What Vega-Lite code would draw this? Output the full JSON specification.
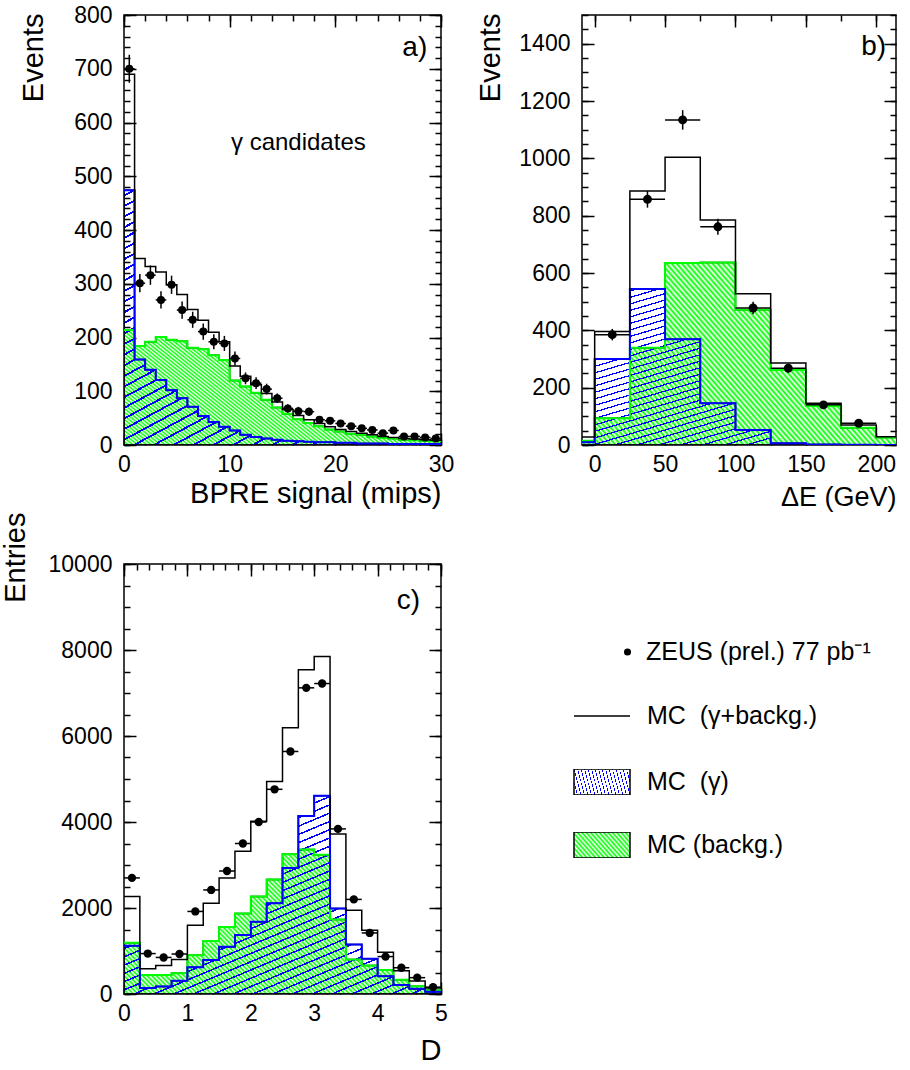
{
"$schema":"https://vega.github.io/schema/vega-lite/v6.json",
"background":"white",
"padding":{"left":0,"top":3,"right":5,"bottom":5},
"columns":2,
"bounds":"flush",
"spacing":{"row":119,"column":141},
"config":{
 "font":"Liberation Sans",
 "view":{"stroke":"black","strokeWidth":1.5},
 "axis":{"grid":false,"domain":false,"tickColor":"black","tickWidth":1.5,"labelColor":"black","labelFontSize":23,"titleFontSize":29,"titleFontWeight":"normal","titleColor":"black","labelFlush":false,"labelOverlap":false,"titleAlign":"right","titleBaseline":"middle"},
 "legend":{"title":null,"orient":"none","padding":0,"clipHeight":26,"labelFontSize":25,"labelColor":"black","labelLimit":400,"labelBaseline":"middle"},
 "style":{
  "ghatch":{"color":{"gradient":"linear","x1":0,"y1":1,"x2":1.204,"y2":0.453,"stops":[
{"offset":0,"color":"#0f0"},{"offset":0.005,"color":"#fff"},{"offset":0.01,"color":"#0f0"},{"offset":0.015,"color":"#fff"},{"offset":0.02,"color":"#0f0"},{"offset":0.025,"color":"#fff"},{"offset":0.03,"color":"#0f0"},{"offset":0.035,"color":"#fff"},{"offset":0.04,"color":"#0f0"},{"offset":0.045,"color":"#fff"},{"offset":0.05,"color":"#0f0"},{"offset":0.055,"color":"#fff"},{"offset":0.06,"color":"#0f0"},{"offset":0.065,"color":"#fff"},{"offset":0.07,"color":"#0f0"},{"offset":0.075,"color":"#fff"},{"offset":0.08,"color":"#0f0"},{"offset":0.085,"color":"#fff"},{"offset":0.09,"color":"#0f0"},{"offset":0.095,"color":"#fff"},
{"offset":0.1,"color":"#0f0"},{"offset":0.105,"color":"#fff"},{"offset":0.11,"color":"#0f0"},{"offset":0.115,"color":"#fff"},{"offset":0.12,"color":"#0f0"},{"offset":0.125,"color":"#fff"},{"offset":0.13,"color":"#0f0"},{"offset":0.135,"color":"#fff"},{"offset":0.14,"color":"#0f0"},{"offset":0.145,"color":"#fff"},{"offset":0.15,"color":"#0f0"},{"offset":0.155,"color":"#fff"},{"offset":0.16,"color":"#0f0"},{"offset":0.165,"color":"#fff"},{"offset":0.17,"color":"#0f0"},{"offset":0.175,"color":"#fff"},{"offset":0.18,"color":"#0f0"},{"offset":0.185,"color":"#fff"},{"offset":0.19,"color":"#0f0"},{"offset":0.195,"color":"#fff"},
{"offset":0.2,"color":"#0f0"},{"offset":0.205,"color":"#fff"},{"offset":0.21,"color":"#0f0"},{"offset":0.215,"color":"#fff"},{"offset":0.22,"color":"#0f0"},{"offset":0.225,"color":"#fff"},{"offset":0.23,"color":"#0f0"},{"offset":0.235,"color":"#fff"},{"offset":0.24,"color":"#0f0"},{"offset":0.245,"color":"#fff"},{"offset":0.25,"color":"#0f0"},{"offset":0.255,"color":"#fff"},{"offset":0.26,"color":"#0f0"},{"offset":0.265,"color":"#fff"},{"offset":0.27,"color":"#0f0"},{"offset":0.275,"color":"#fff"},{"offset":0.28,"color":"#0f0"},{"offset":0.285,"color":"#fff"},{"offset":0.29,"color":"#0f0"},{"offset":0.295,"color":"#fff"},
{"offset":0.3,"color":"#0f0"},{"offset":0.305,"color":"#fff"},{"offset":0.31,"color":"#0f0"},{"offset":0.315,"color":"#fff"},{"offset":0.32,"color":"#0f0"},{"offset":0.325,"color":"#fff"},{"offset":0.33,"color":"#0f0"},{"offset":0.335,"color":"#fff"},{"offset":0.34,"color":"#0f0"},{"offset":0.345,"color":"#fff"},{"offset":0.35,"color":"#0f0"},{"offset":0.355,"color":"#fff"},{"offset":0.36,"color":"#0f0"},{"offset":0.365,"color":"#fff"},{"offset":0.37,"color":"#0f0"},{"offset":0.375,"color":"#fff"},{"offset":0.38,"color":"#0f0"},{"offset":0.385,"color":"#fff"},{"offset":0.39,"color":"#0f0"},{"offset":0.395,"color":"#fff"},
{"offset":0.4,"color":"#0f0"},{"offset":0.405,"color":"#fff"},{"offset":0.41,"color":"#0f0"},{"offset":0.415,"color":"#fff"},{"offset":0.42,"color":"#0f0"},{"offset":0.425,"color":"#fff"},{"offset":0.43,"color":"#0f0"},{"offset":0.435,"color":"#fff"},{"offset":0.44,"color":"#0f0"},{"offset":0.445,"color":"#fff"},{"offset":0.45,"color":"#0f0"},{"offset":0.455,"color":"#fff"},{"offset":0.46,"color":"#0f0"},{"offset":0.465,"color":"#fff"},{"offset":0.47,"color":"#0f0"},{"offset":0.475,"color":"#fff"},{"offset":0.48,"color":"#0f0"},{"offset":0.485,"color":"#fff"},{"offset":0.49,"color":"#0f0"},{"offset":0.495,"color":"#fff"},
{"offset":0.5,"color":"#0f0"},{"offset":0.505,"color":"#fff"},{"offset":0.51,"color":"#0f0"},{"offset":0.515,"color":"#fff"},{"offset":0.52,"color":"#0f0"},{"offset":0.525,"color":"#fff"},{"offset":0.53,"color":"#0f0"},{"offset":0.535,"color":"#fff"},{"offset":0.54,"color":"#0f0"},{"offset":0.545,"color":"#fff"},{"offset":0.55,"color":"#0f0"},{"offset":0.555,"color":"#fff"},{"offset":0.56,"color":"#0f0"},{"offset":0.565,"color":"#fff"},{"offset":0.57,"color":"#0f0"},{"offset":0.575,"color":"#fff"},{"offset":0.58,"color":"#0f0"},{"offset":0.585,"color":"#fff"},{"offset":0.59,"color":"#0f0"},{"offset":0.595,"color":"#fff"},
{"offset":0.6,"color":"#0f0"},{"offset":0.605,"color":"#fff"},{"offset":0.61,"color":"#0f0"},{"offset":0.615,"color":"#fff"},{"offset":0.62,"color":"#0f0"},{"offset":0.625,"color":"#fff"},{"offset":0.63,"color":"#0f0"},{"offset":0.635,"color":"#fff"},{"offset":0.64,"color":"#0f0"},{"offset":0.645,"color":"#fff"},{"offset":0.65,"color":"#0f0"},{"offset":0.655,"color":"#fff"},{"offset":0.66,"color":"#0f0"},{"offset":0.665,"color":"#fff"},{"offset":0.67,"color":"#0f0"},{"offset":0.675,"color":"#fff"},{"offset":0.68,"color":"#0f0"},{"offset":0.685,"color":"#fff"},{"offset":0.69,"color":"#0f0"},{"offset":0.695,"color":"#fff"},
{"offset":0.7,"color":"#0f0"},{"offset":0.705,"color":"#fff"},{"offset":0.71,"color":"#0f0"},{"offset":0.715,"color":"#fff"},{"offset":0.72,"color":"#0f0"},{"offset":0.725,"color":"#fff"},{"offset":0.73,"color":"#0f0"},{"offset":0.735,"color":"#fff"},{"offset":0.74,"color":"#0f0"},{"offset":0.745,"color":"#fff"},{"offset":0.75,"color":"#0f0"},{"offset":0.755,"color":"#fff"},{"offset":0.76,"color":"#0f0"},{"offset":0.765,"color":"#fff"},{"offset":0.77,"color":"#0f0"},{"offset":0.775,"color":"#fff"},{"offset":0.78,"color":"#0f0"},{"offset":0.785,"color":"#fff"},{"offset":0.79,"color":"#0f0"},{"offset":0.795,"color":"#fff"},
{"offset":0.8,"color":"#0f0"},{"offset":0.805,"color":"#fff"},{"offset":0.81,"color":"#0f0"},{"offset":0.815,"color":"#fff"},{"offset":0.82,"color":"#0f0"},{"offset":0.825,"color":"#fff"},{"offset":0.83,"color":"#0f0"},{"offset":0.835,"color":"#fff"},{"offset":0.84,"color":"#0f0"},{"offset":0.845,"color":"#fff"},{"offset":0.85,"color":"#0f0"},{"offset":0.855,"color":"#fff"},{"offset":0.86,"color":"#0f0"},{"offset":0.865,"color":"#fff"},{"offset":0.87,"color":"#0f0"},{"offset":0.875,"color":"#fff"},{"offset":0.88,"color":"#0f0"},{"offset":0.885,"color":"#fff"},{"offset":0.89,"color":"#0f0"},{"offset":0.895,"color":"#fff"},
{"offset":0.9,"color":"#0f0"},{"offset":0.905,"color":"#fff"},{"offset":0.91,"color":"#0f0"},{"offset":0.915,"color":"#fff"},{"offset":0.92,"color":"#0f0"},{"offset":0.925,"color":"#fff"},{"offset":0.93,"color":"#0f0"},{"offset":0.935,"color":"#fff"},{"offset":0.94,"color":"#0f0"},{"offset":0.945,"color":"#fff"},{"offset":0.95,"color":"#0f0"},{"offset":0.955,"color":"#fff"},{"offset":0.96,"color":"#0f0"},{"offset":0.965,"color":"#fff"},{"offset":0.97,"color":"#0f0"},{"offset":0.975,"color":"#fff"},{"offset":0.98,"color":"#0f0"},{"offset":0.985,"color":"#fff"},{"offset":0.99,"color":"#0f0"},{"offset":0.995,"color":"#fff"},{"offset":1,"color":"#0f0"}]}},
  "bhatch":{"color":{"gradient":"linear","x1":0,"y1":0,"x2":0.77,"y2":1.153,"stops":[
{"offset":0,"color":"transparent"},
{"offset":0.01,"color":"transparent"},{"offset":0.01,"color":"#00f"},{"offset":0.015,"color":"#00f"},{"offset":0.015,"color":"transparent"},
{"offset":0.035,"color":"transparent"},{"offset":0.035,"color":"#00f"},{"offset":0.04,"color":"#00f"},{"offset":0.04,"color":"transparent"},
{"offset":0.06,"color":"transparent"},{"offset":0.06,"color":"#00f"},{"offset":0.065,"color":"#00f"},{"offset":0.065,"color":"transparent"},
{"offset":0.085,"color":"transparent"},{"offset":0.085,"color":"#00f"},{"offset":0.09,"color":"#00f"},{"offset":0.09,"color":"transparent"},
{"offset":0.11,"color":"transparent"},{"offset":0.11,"color":"#00f"},{"offset":0.115,"color":"#00f"},{"offset":0.115,"color":"transparent"},
{"offset":0.135,"color":"transparent"},{"offset":0.135,"color":"#00f"},{"offset":0.14,"color":"#00f"},{"offset":0.14,"color":"transparent"},
{"offset":0.16,"color":"transparent"},{"offset":0.16,"color":"#00f"},{"offset":0.165,"color":"#00f"},{"offset":0.165,"color":"transparent"},
{"offset":0.185,"color":"transparent"},{"offset":0.185,"color":"#00f"},{"offset":0.19,"color":"#00f"},{"offset":0.19,"color":"transparent"},
{"offset":0.21,"color":"transparent"},{"offset":0.21,"color":"#00f"},{"offset":0.215,"color":"#00f"},{"offset":0.215,"color":"transparent"},
{"offset":0.235,"color":"transparent"},{"offset":0.235,"color":"#00f"},{"offset":0.24,"color":"#00f"},{"offset":0.24,"color":"transparent"},
{"offset":0.26,"color":"transparent"},{"offset":0.26,"color":"#00f"},{"offset":0.265,"color":"#00f"},{"offset":0.265,"color":"transparent"},
{"offset":0.285,"color":"transparent"},{"offset":0.285,"color":"#00f"},{"offset":0.29,"color":"#00f"},{"offset":0.29,"color":"transparent"},
{"offset":0.31,"color":"transparent"},{"offset":0.31,"color":"#00f"},{"offset":0.315,"color":"#00f"},{"offset":0.315,"color":"transparent"},
{"offset":0.335,"color":"transparent"},{"offset":0.335,"color":"#00f"},{"offset":0.34,"color":"#00f"},{"offset":0.34,"color":"transparent"},
{"offset":0.36,"color":"transparent"},{"offset":0.36,"color":"#00f"},{"offset":0.365,"color":"#00f"},{"offset":0.365,"color":"transparent"},
{"offset":0.385,"color":"transparent"},{"offset":0.385,"color":"#00f"},{"offset":0.39,"color":"#00f"},{"offset":0.39,"color":"transparent"},
{"offset":0.41,"color":"transparent"},{"offset":0.41,"color":"#00f"},{"offset":0.415,"color":"#00f"},{"offset":0.415,"color":"transparent"},
{"offset":0.435,"color":"transparent"},{"offset":0.435,"color":"#00f"},{"offset":0.44,"color":"#00f"},{"offset":0.44,"color":"transparent"},
{"offset":0.46,"color":"transparent"},{"offset":0.46,"color":"#00f"},{"offset":0.465,"color":"#00f"},{"offset":0.465,"color":"transparent"},
{"offset":0.485,"color":"transparent"},{"offset":0.485,"color":"#00f"},{"offset":0.49,"color":"#00f"},{"offset":0.49,"color":"transparent"},
{"offset":0.51,"color":"transparent"},{"offset":0.51,"color":"#00f"},{"offset":0.515,"color":"#00f"},{"offset":0.515,"color":"transparent"},
{"offset":0.535,"color":"transparent"},{"offset":0.535,"color":"#00f"},{"offset":0.54,"color":"#00f"},{"offset":0.54,"color":"transparent"},
{"offset":0.56,"color":"transparent"},{"offset":0.56,"color":"#00f"},{"offset":0.565,"color":"#00f"},{"offset":0.565,"color":"transparent"},
{"offset":0.585,"color":"transparent"},{"offset":0.585,"color":"#00f"},{"offset":0.59,"color":"#00f"},{"offset":0.59,"color":"transparent"},
{"offset":0.61,"color":"transparent"},{"offset":0.61,"color":"#00f"},{"offset":0.615,"color":"#00f"},{"offset":0.615,"color":"transparent"},
{"offset":0.635,"color":"transparent"},{"offset":0.635,"color":"#00f"},{"offset":0.64,"color":"#00f"},{"offset":0.64,"color":"transparent"},
{"offset":0.66,"color":"transparent"},{"offset":0.66,"color":"#00f"},{"offset":0.665,"color":"#00f"},{"offset":0.665,"color":"transparent"},
{"offset":0.685,"color":"transparent"},{"offset":0.685,"color":"#00f"},{"offset":0.69,"color":"#00f"},{"offset":0.69,"color":"transparent"},
{"offset":0.71,"color":"transparent"},{"offset":0.71,"color":"#00f"},{"offset":0.715,"color":"#00f"},{"offset":0.715,"color":"transparent"},
{"offset":0.735,"color":"transparent"},{"offset":0.735,"color":"#00f"},{"offset":0.74,"color":"#00f"},{"offset":0.74,"color":"transparent"},
{"offset":0.76,"color":"transparent"},{"offset":0.76,"color":"#00f"},{"offset":0.765,"color":"#00f"},{"offset":0.765,"color":"transparent"},
{"offset":0.785,"color":"transparent"},{"offset":0.785,"color":"#00f"},{"offset":0.79,"color":"#00f"},{"offset":0.79,"color":"transparent"},
{"offset":0.81,"color":"transparent"},{"offset":0.81,"color":"#00f"},{"offset":0.815,"color":"#00f"},{"offset":0.815,"color":"transparent"},
{"offset":0.835,"color":"transparent"},{"offset":0.835,"color":"#00f"},{"offset":0.84,"color":"#00f"},{"offset":0.84,"color":"transparent"},
{"offset":0.86,"color":"transparent"},{"offset":0.86,"color":"#00f"},{"offset":0.865,"color":"#00f"},{"offset":0.865,"color":"transparent"},
{"offset":0.885,"color":"transparent"},{"offset":0.885,"color":"#00f"},{"offset":0.89,"color":"#00f"},{"offset":0.89,"color":"transparent"},
{"offset":0.91,"color":"transparent"},{"offset":0.91,"color":"#00f"},{"offset":0.915,"color":"#00f"},{"offset":0.915,"color":"transparent"},
{"offset":0.935,"color":"transparent"},{"offset":0.935,"color":"#00f"},{"offset":0.94,"color":"#00f"},{"offset":0.94,"color":"transparent"},
{"offset":0.96,"color":"transparent"},{"offset":0.96,"color":"#00f"},{"offset":0.965,"color":"#00f"},{"offset":0.965,"color":"transparent"},
{"offset":0.985,"color":"transparent"},{"offset":0.985,"color":"#00f"},{"offset":0.99,"color":"#00f"},{"offset":0.99,"color":"transparent"},
{"offset":1,"color":"transparent"}]}}
 }
},
"datasets":{
 "A":[
  {"lo":0,"hi":1,"xc":0.5,"tot":690,"gam":474,"bkg":214,"dat":700,"err":26},
  {"lo":1,"hi":2,"xc":1.5,"tot":347,"gam":159,"bkg":184,"dat":301,"err":17},
  {"lo":2,"hi":3,"xc":2.5,"tot":332,"gam":140,"bkg":192,"dat":316,"err":18},
  {"lo":3,"hi":4,"xc":3.5,"tot":322,"gam":121,"bkg":201,"dat":270,"err":16},
  {"lo":4,"hi":5,"xc":4.5,"tot":298,"gam":102,"bkg":196,"dat":298,"err":17},
  {"lo":5,"hi":6,"xc":5.5,"tot":280,"gam":87,"bkg":193,"dat":251,"err":16},
  {"lo":6,"hi":7,"xc":6.5,"tot":252,"gam":71,"bkg":181,"dat":233,"err":15},
  {"lo":7,"hi":8,"xc":7.5,"tot":232,"gam":54,"bkg":178,"dat":211,"err":15},
  {"lo":8,"hi":9,"xc":8.5,"tot":210,"gam":43,"bkg":167,"dat":192,"err":14},
  {"lo":9,"hi":10,"xc":9.5,"tot":192,"gam":34,"bkg":158,"dat":189,"err":14},
  {"lo":10,"hi":11,"xc":10.5,"tot":147,"gam":27,"bkg":120,"dat":161,"err":13},
  {"lo":11,"hi":12,"xc":11.5,"tot":128,"gam":19,"bkg":109,"dat":124,"err":11},
  {"lo":12,"hi":13,"xc":12.5,"tot":112,"gam":15,"bkg":97,"dat":115,"err":11},
  {"lo":13,"hi":14,"xc":13.5,"tot":96,"gam":12,"bkg":84,"dat":104,"err":10},
  {"lo":14,"hi":15,"xc":14.5,"tot":80,"gam":10,"bkg":70,"dat":87,"err":9},
  {"lo":15,"hi":16,"xc":15.5,"tot":66,"gam":8,"bkg":58,"dat":68,"err":8},
  {"lo":16,"hi":17,"xc":16.5,"tot":55,"gam":7,"bkg":48,"dat":63,"err":8},
  {"lo":17,"hi":18,"xc":17.5,"tot":47,"gam":6,"bkg":41,"dat":62,"err":8},
  {"lo":18,"hi":19,"xc":18.5,"tot":40,"gam":5,"bkg":35,"dat":47,"err":7},
  {"lo":19,"hi":20,"xc":19.5,"tot":34,"gam":5,"bkg":29,"dat":45,"err":7},
  {"lo":20,"hi":21,"xc":20.5,"tot":29,"gam":4,"bkg":25,"dat":40,"err":6},
  {"lo":21,"hi":22,"xc":21.5,"tot":25,"gam":4,"bkg":21,"dat":35,"err":6},
  {"lo":22,"hi":23,"xc":22.5,"tot":22,"gam":3,"bkg":19,"dat":31,"err":6},
  {"lo":23,"hi":24,"xc":23.5,"tot":19,"gam":3,"bkg":16,"dat":28,"err":5},
  {"lo":24,"hi":25,"xc":24.5,"tot":16,"gam":3,"bkg":13,"dat":22,"err":5},
  {"lo":25,"hi":26,"xc":25.5,"tot":14,"gam":2,"bkg":12,"dat":27,"err":5},
  {"lo":26,"hi":27,"xc":26.5,"tot":12,"gam":2,"bkg":10,"dat":16,"err":4},
  {"lo":27,"hi":28,"xc":27.5,"tot":11,"gam":2,"bkg":9,"dat":16,"err":4},
  {"lo":28,"hi":29,"xc":28.5,"tot":10,"gam":2,"bkg":8,"dat":14,"err":4},
  {"lo":29,"hi":30,"xc":29.5,"tot":9,"gam":2,"bkg":7,"dat":12,"err":3},
  {"lo":30,"tot":9,"gam":2,"bkg":7}
 ],
 "B":[
  {"lo":-25,"hi":0,"xc":-12.5,"tot":28,"gam":10,"bkg":15},
  {"lo":0,"hi":25,"xc":12.5,"tot":396,"gam":300,"bkg":93,"dat":385,"err":20},
  {"lo":25,"hi":50,"xc":37.5,"tot":886,"gam":544,"bkg":339,"dat":857,"err":29},
  {"lo":50,"hi":75,"xc":62.5,"tot":1004,"gam":369,"bkg":635,"dat":1134,"err":34},
  {"lo":75,"hi":100,"xc":87.5,"tot":785,"gam":146,"bkg":637,"dat":761,"err":28},
  {"lo":100,"hi":125,"xc":112.5,"tot":528,"gam":52,"bkg":472,"dat":478,"err":22},
  {"lo":125,"hi":150,"xc":137.5,"tot":286,"gam":6,"bkg":262,"dat":268,"err":16},
  {"lo":150,"hi":175,"xc":162.5,"tot":146,"gam":2,"bkg":136,"dat":140,"err":12},
  {"lo":175,"hi":200,"xc":187.5,"tot":70,"gam":1,"bkg":60,"dat":76,"err":9},
  {"lo":200,"hi":225,"xc":212.5,"tot":29,"gam":0,"bkg":26},
  {"lo":225,"tot":29,"gam":0,"bkg":26}
 ],
 "C":[
  {"lo":0,"hi":0.25,"xc":0.125,"tot":2270,"gam":1120,"bkg":1190,"dat":2700,"err":52},
  {"lo":0.25,"hi":0.5,"xc":0.375,"tot":590,"gam":140,"bkg":440,"dat":940,"err":31},
  {"lo":0.5,"hi":0.75,"xc":0.625,"tot":660,"gam":175,"bkg":440,"dat":850,"err":29},
  {"lo":0.75,"hi":1,"xc":0.875,"tot":800,"gam":310,"bkg":480,"dat":930,"err":30},
  {"lo":1,"hi":1.25,"xc":1.125,"tot":1600,"gam":620,"bkg":900,"dat":1920,"err":44},
  {"lo":1.25,"hi":1.5,"xc":1.375,"tot":2110,"gam":790,"bkg":1230,"dat":2420,"err":49},
  {"lo":1.5,"hi":1.75,"xc":1.625,"tot":2700,"gam":1100,"bkg":1560,"dat":2860,"err":53},
  {"lo":1.75,"hi":2,"xc":1.875,"tot":3320,"gam":1370,"bkg":1870,"dat":3500,"err":59},
  {"lo":2,"hi":2.25,"xc":2.125,"tot":4020,"gam":1680,"bkg":2270,"dat":4000,"err":63},
  {"lo":2.25,"hi":2.5,"xc":2.375,"tot":4940,"gam":2110,"bkg":2660,"dat":4760,"err":69},
  {"lo":2.5,"hi":2.75,"xc":2.625,"tot":6190,"gam":2930,"bkg":3250,"dat":5640,"err":75},
  {"lo":2.75,"hi":3,"xc":2.875,"tot":7540,"gam":4140,"bkg":3360,"dat":7120,"err":84},
  {"lo":3,"hi":3.25,"xc":3.125,"tot":7850,"gam":4610,"bkg":3240,"dat":7220,"err":85},
  {"lo":3.25,"hi":3.5,"xc":3.375,"tot":3720,"gam":1990,"bkg":1730,"dat":3840,"err":62},
  {"lo":3.5,"hi":3.75,"xc":3.625,"tot":1950,"gam":1150,"bkg":800,"dat":2200,"err":47},
  {"lo":3.75,"hi":4,"xc":3.875,"tot":1480,"gam":820,"bkg":660,"dat":1420,"err":38},
  {"lo":4,"hi":4.25,"xc":4.125,"tot":970,"gam":410,"bkg":560,"dat":870,"err":29},
  {"lo":4.25,"hi":4.5,"xc":4.375,"tot":540,"gam":210,"bkg":330,"dat":610,"err":25},
  {"lo":4.5,"hi":4.75,"xc":4.625,"tot":300,"gam":120,"bkg":180,"dat":380,"err":19},
  {"lo":4.75,"hi":5,"xc":4.875,"tot":140,"gam":50,"bkg":90,"dat":160,"err":13},
  {"lo":5,"tot":140,"gam":50,"bkg":90}
 ]
},
"concat":[
{"width":317,"height":430,"data":{"name":"A"},
 "resolve":{"axis":{"x":"independent","y":"independent"}},
 "layer":[
  {"mark":{"type":"area","interpolate":"step-after","style":"ghatch","stroke":"black","strokeWidth":1.5,"clip":true},
   "encoding":{
    "x":{"field":"lo","type":"quantitative","scale":{"domain":[0,30],"nice":false,"zero":false},"axis":{"orient":"bottom","values":[0,10,20,30],"tickSize":-12,"labelPadding":20,"title":"BPRE signal (mips)","titleX":317,"titleY":48}},
    "y":{"field":"bkg","type":"quantitative","scale":{"domain":[0,800],"nice":false},"axis":{"orient":"left","values":[0,100,200,300,400,500,600,700,800],"format":"d","tickSize":-12,"labelPadding":24,"title":"Events","titleX":-91,"titleY":-2}}}},
  {"mark":{"type":"area","interpolate":"step-after","style":"bhatch","stroke":"black","strokeWidth":1.5,"clip":true},
   "encoding":{
    "x":{"field":"lo","type":"quantitative","scale":{"domain":[0,30],"nice":false,"zero":false},"axis":{"orient":"bottom","tickCount":15,"tickSize":-6,"labels":false,"title":null}},
    "y":{"field":"gam","type":"quantitative","scale":{"domain":[0,800],"nice":false},"axis":{"orient":"left","tickCount":40,"tickSize":-6,"labels":false,"title":null}}}},
  {"mark":{"type":"line","interpolate":"step-after","color":"#00ff00","strokeWidth":2,"clip":true},
   "encoding":{
    "x":{"field":"lo","type":"quantitative","axis":{"orient":"top","tickCount":15,"tickSize":-6,"labels":false,"title":null}},
    "y":{"field":"bkg","type":"quantitative","axis":{"orient":"right","tickCount":40,"tickSize":-6,"labels":false,"title":null}}}},
  {"mark":{"type":"line","interpolate":"step-after","color":"#0000ff","strokeWidth":2,"clip":true},
   "encoding":{"x":{"field":"lo","type":"quantitative","axis":null},"y":{"field":"gam","type":"quantitative","axis":null}}},
  {"mark":{"type":"line","interpolate":"step-after","color":"black","strokeWidth":1.5,"clip":true},
   "encoding":{
    "x":{"field":"lo","type":"quantitative","axis":{"orient":"top","values":[0,10,20,30],"tickSize":-12,"labels":false,"title":null}},
    "y":{"field":"tot","type":"quantitative","axis":{"orient":"right","values":[0,100,200,300,400,500,600,700,800],"tickSize":-12,"labels":false,"title":null}}}},
  {"transform":[{"filter":"isValid(datum.dat)"}],"mark":{"type":"rule","color":"black","strokeWidth":1.5},
   "encoding":{"x":{"field":"lo","type":"quantitative","axis":null},"x2":{"field":"hi"},"y":{"field":"dat","type":"quantitative","axis":null}}},
  {"transform":[{"filter":"isValid(datum.dat)"}],"mark":{"type":"errorbar","color":"black","thickness":1.5},
   "encoding":{"x":{"field":"xc","type":"quantitative","axis":null},"y":{"field":"dat","type":"quantitative","axis":null},"yError":{"field":"err"}}},
  {"transform":[{"filter":"isValid(datum.dat)"}],"mark":{"type":"circle","color":"black","size":64,"opacity":1},
   "encoding":{"x":{"field":"xc","type":"quantitative","axis":null},"y":{"field":"dat","type":"quantitative","axis":null}}},
  {"data":{"values":[{}]},"mark":{"type":"text","text":"a)","fontSize":28,"align":"right","baseline":"middle","color":"black"},
   "encoding":{"x":{"datum":28.7,"type":"quantitative","axis":null},"y":{"datum":739,"type":"quantitative","axis":null}}},
  {"data":{"values":[{}]},"mark":{"type":"text","text":"γ candidates","fontSize":24,"align":"center","baseline":"middle","color":"black"},
   "encoding":{"x":{"datum":16.5,"type":"quantitative","axis":null},"y":{"datum":562,"type":"quantitative","axis":null}}}
 ]},
{"width":314,"height":430,"data":{"name":"B"},
 "resolve":{"axis":{"x":"independent","y":"independent"}},
 "layer":[
  {"mark":{"type":"area","interpolate":"step-after","style":"ghatch","stroke":"black","strokeWidth":1.5,"clip":true},
   "encoding":{
    "x":{"field":"lo","type":"quantitative","scale":{"domain":[-9,214],"nice":false,"zero":false},"axis":{"orient":"bottom","values":[0,50,100,150,200],"tickSize":-12,"labelPadding":20,"title":"ΔE (GeV)","titleFontSize":27,"titleX":314,"titleY":52}},
    "y":{"field":"bkg","type":"quantitative","scale":{"domain":[0,1500],"nice":false},"axis":{"orient":"left","values":[0,200,400,600,800,1000,1200,1400],"format":"d","tickSize":-12,"labelPadding":24,"title":"Events","titleX":-92,"titleY":-2}}}},
  {"mark":{"type":"area","interpolate":"step-after","style":"bhatch","stroke":"black","strokeWidth":1.5,"clip":true},
   "encoding":{
    "x":{"field":"lo","type":"quantitative","scale":{"domain":[-9,214],"nice":false,"zero":false},"axis":{"orient":"bottom","values":[0,25,50,75,100,125,150,175,200],"tickSize":-6,"labels":false,"title":null}},
    "y":{"field":"gam","type":"quantitative","scale":{"domain":[0,1500],"nice":false},"axis":{"orient":"left","tickCount":30,"tickSize":-6,"labels":false,"title":null}}}},
  {"mark":{"type":"line","interpolate":"step-after","color":"#00ff00","strokeWidth":2,"clip":true},
   "encoding":{
    "x":{"field":"lo","type":"quantitative","axis":{"orient":"top","values":[0,25,50,75,100,125,150,175,200],"tickSize":-6,"labels":false,"title":null}},
    "y":{"field":"bkg","type":"quantitative","axis":{"orient":"right","tickCount":30,"tickSize":-6,"labels":false,"title":null}}}},
  {"mark":{"type":"line","interpolate":"step-after","color":"#0000ff","strokeWidth":2,"clip":true},
   "encoding":{"x":{"field":"lo","type":"quantitative","axis":null},"y":{"field":"gam","type":"quantitative","axis":null}}},
  {"mark":{"type":"line","interpolate":"step-after","color":"black","strokeWidth":1.5,"clip":true},
   "encoding":{
    "x":{"field":"lo","type":"quantitative","axis":{"orient":"top","values":[0,50,100,150,200],"tickSize":-12,"labels":false,"title":null}},
    "y":{"field":"tot","type":"quantitative","axis":{"orient":"right","values":[0,200,400,600,800,1000,1200,1400],"tickSize":-12,"labels":false,"title":null}}}},
  {"transform":[{"filter":"isValid(datum.dat)"}],"mark":{"type":"rule","color":"black","strokeWidth":1.5},
   "encoding":{"x":{"field":"lo","type":"quantitative","axis":null},"x2":{"field":"hi"},"y":{"field":"dat","type":"quantitative","axis":null}}},
  {"transform":[{"filter":"isValid(datum.dat)"}],"mark":{"type":"errorbar","color":"black","thickness":1.5},
   "encoding":{"x":{"field":"xc","type":"quantitative","axis":null},"y":{"field":"dat","type":"quantitative","axis":null},"yError":{"field":"err"}}},
  {"transform":[{"filter":"isValid(datum.dat)"}],"mark":{"type":"circle","color":"black","size":80,"opacity":1},
   "encoding":{"x":{"field":"xc","type":"quantitative","axis":null},"y":{"field":"dat","type":"quantitative","axis":null}}},
  {"data":{"values":[{}]},"mark":{"type":"text","text":"b)","fontSize":28,"align":"right","baseline":"middle","color":"black"},
   "encoding":{"x":{"datum":207,"type":"quantitative","axis":null},"y":{"datum":1390,"type":"quantitative","axis":null}}}
 ]},
{"width":317,"height":430,"data":{"name":"C"},
 "resolve":{"axis":{"x":"independent","y":"independent"},"scale":{"stroke":"independent"},"legend":{"stroke":"independent"}},
 "layer":[
  {"mark":{"type":"area","interpolate":"step-after","style":"ghatch","strokeWidth":1.5,"clip":true},
   "encoding":{
    "x":{"field":"lo","type":"quantitative","scale":{"domain":[0,5],"nice":false,"zero":false},"axis":{"orient":"bottom","values":[0,1,2,3,4,5],"tickSize":-12,"labelPadding":20,"title":"D","titleX":317,"titleY":56}},
    "y":{"field":"bkg","type":"quantitative","scale":{"domain":[0,10000],"nice":false},"axis":{"orient":"left","values":[0,2000,4000,6000,8000,10000],"format":"d","tickSize":-12,"labelPadding":24,"title":"Entries","titleX":-109,"titleY":-52}},
    "stroke":{"datum":"MC (backg.)","type":"nominal","scale":{"range":["black"]},
     "legend":{"legendX":449,"legendY":268,"symbolType":"M-1,-0.464H1V0.464H-1Z","symbolSize":3136,"symbolStrokeWidth":1.5,"labelOffset":16}}}},
  {"mark":{"type":"area","interpolate":"step-after","style":"bhatch","strokeWidth":1.5,"clip":true},
   "encoding":{
    "x":{"field":"lo","type":"quantitative","scale":{"domain":[0,5],"nice":false,"zero":false},"axis":{"orient":"bottom","tickCount":20,"tickSize":-6,"labels":false,"title":null}},
    "y":{"field":"gam","type":"quantitative","scale":{"domain":[0,10000],"nice":false},"axis":{"orient":"left","tickCount":20,"tickSize":-6,"labels":false,"title":null}},
    "stroke":{"datum":"MC\u00a0\u00a0(γ)","type":"nominal","scale":{"range":["black"]},
     "legend":{"legendX":449,"legendY":205,"symbolType":"M-1,-0.464H1V0.464H-1Z","symbolSize":3136,"symbolStrokeWidth":1.5,"labelOffset":16}}}},
  {"mark":{"type":"line","interpolate":"step-after","color":"#00ff00","strokeWidth":2,"clip":true},
   "encoding":{
    "x":{"field":"lo","type":"quantitative","axis":{"orient":"top","tickCount":20,"tickSize":-6,"labels":false,"title":null}},
    "y":{"field":"bkg","type":"quantitative","axis":{"orient":"right","tickCount":20,"tickSize":-6,"labels":false,"title":null}}}},
  {"mark":{"type":"line","interpolate":"step-after","color":"#0000ff","strokeWidth":2,"clip":true},
   "encoding":{"x":{"field":"lo","type":"quantitative","axis":null},"y":{"field":"gam","type":"quantitative","axis":null}}},
  {"mark":{"type":"line","interpolate":"step-after","color":"black","strokeWidth":1.5,"clip":true},
   "encoding":{
    "x":{"field":"lo","type":"quantitative","axis":{"orient":"top","values":[0,1,2,3,4,5],"tickSize":-12,"labels":false,"title":null}},
    "y":{"field":"tot","type":"quantitative","axis":{"orient":"right","values":[0,2000,4000,6000,8000,10000],"tickSize":-12,"labels":false,"title":null}},
    "strokeDash":{"datum":"MC\u00a0\u00a0(γ+backg.)","type":"nominal","scale":{"range":[[1,0]]},
     "legend":{"legendX":449,"legendY":688,"symbolType":"stroke","symbolSize":3136,"symbolStrokeColor":"black","symbolStrokeWidth":1.5,"labelOffset":16}}}},
  {"transform":[{"filter":"isValid(datum.dat)"}],"mark":{"type":"rule","color":"black","strokeWidth":1.5},
   "encoding":{"x":{"field":"lo","type":"quantitative","axis":null},"x2":{"field":"hi"},"y":{"field":"dat","type":"quantitative","axis":null}}},
  {"transform":[{"filter":"isValid(datum.dat)"}],"mark":{"type":"errorbar","color":"black","thickness":1.5},
   "encoding":{"x":{"field":"xc","type":"quantitative","axis":null},"y":{"field":"dat","type":"quantitative","axis":null},"yError":{"field":"err"}}},
  {"transform":[{"filter":"isValid(datum.dat)"}],"mark":{"type":"point","filled":true,"color":"black","size":70,"opacity":1},
   "encoding":{"x":{"field":"xc","type":"quantitative","axis":null},"y":{"field":"dat","type":"quantitative","axis":null},
    "shape":{"datum":"ZEUS (prel.) 77 pb⁻¹","type":"nominal","scale":{"range":["circle"]},
     "legend":{"legendX":491,"legendY":624,"symbolSize":50,"symbolFillColor":"black","labelOffset":6}}}},
  {"data":{"values":[{}]},"mark":{"type":"text","text":"c)","fontSize":28,"align":"right","baseline":"middle","color":"black"},
   "encoding":{"x":{"datum":4.67,"type":"quantitative","axis":null},"y":{"datum":9135,"type":"quantitative","axis":null}}}
 ]}
]
}
